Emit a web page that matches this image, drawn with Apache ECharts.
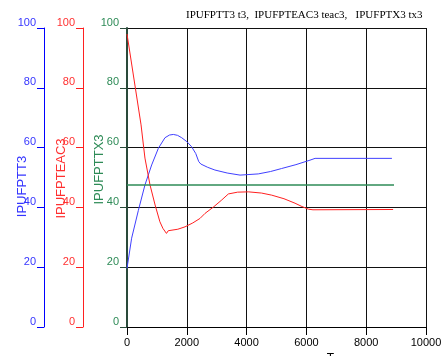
<!DOCTYPE html>
<html>
<head>
<meta charset="utf-8">
<script src="https://cdn.jsdelivr.net/npm/echarts@6/dist/echarts.min.js"></script>
<style>
  html, body { margin: 0; padding: 0; background: #fff; }
  #chart { width: 448px; height: 356px; }
</style>
</head>
<body>
<div id="chart"></div>
<script>
// 曲线数据 [T, 值]
var t3 = [
  [0, 19.6], [155, 29.7], [380, 39], [600, 47.5], [825, 54.2], [1050, 59.8],
  [1270, 63.3], [1420, 64.2], [1550, 64.4], [1690, 64.1], [1830, 63.3],
  [2000, 62], [2160, 60.3], [2300, 58], [2400, 55.3], [2470, 54.5],
  [2700, 53.4], [2940, 52.5], [3350, 51.5], [3780, 50.8], [4390, 51.2],
  [4800, 52], [5170, 53], [5650, 54.3], [6120, 55.8], [6290, 56.4], [8860, 56.4]
]
var teac3 = [
  [0, 98], [470, 67.6], [600, 56.5], [770, 47.5], [940, 40.8], [1100, 35.2],
  [1200, 33], [1320, 31.3], [1380, 32.2], [1440, 32], [1700, 32.7],
  [1940, 33.5], [2200, 34.8], [2440, 36.3], [2610, 38], [2900, 40.2],
  [3170, 42.5], [3390, 44.5], [3700, 45.1], [4060, 45.2], [4500, 44.8],
  [4840, 44.1], [5250, 42.9], [5620, 41.4], [5850, 40.3], [6070, 39.4],
  [6220, 39.2], [8900, 39.3]
]
var tx3 = [[0, 47.5], [8930, 47.5]]
var yTicks = { min: 0, max: 100, interval: 20 }
var titleText = 'IPUFPTT3 t3,  IPUFPTEAC3 teac3,   IPUFPTX3 tx3'

var chart = echarts.init(document.getElementById('chart'))

function leftAxis(name, color, lineColor, offset, gap, namePad) {
  return {
    type: 'value',
    position: 'left',
    offset: offset,
    min: yTicks.min,
    max: yTicks.max,
    interval: yTicks.interval,
    name: name,
    nameLocation: 'middle',
    nameGap: gap,
    nameMoveOverlap: false,
    nameTextStyle: { color: color, fontSize: 13, fontFamily: 'Liberation Sans', padding: namePad },
    axisLine: { show: true, onZero: false, lineStyle: { color: lineColor, width: 1 } },
    axisTick: { show: true, length: 7, lineStyle: { color: lineColor } },
    axisLabel: {
      color: color, fontSize: 11, fontFamily: 'Liberation Sans',
      margin: 8, verticalAlign: 'bottom'
    },
    splitLine: { show: false }
  }
}

var green = leftAxis('IPUFPTTX3', '#2e8b57', '#2a4a3a', 0, 21, [0, 0, 0, 16])
green.splitLine = { show: true, lineStyle: { color: '#111', width: 1 } }
green.axisLine.lineStyle.width = 2

var option = {
  animation: false,
  backgroundColor: '#fff',
  title: {
    text: titleText,
    left: 181,
    top: 5,
    textStyle: { color: '#000', fontSize: 11, fontWeight: 'normal', fontFamily: 'Liberation Serif' }
  },
  grid: { left: 127, top: 28, right: 22, bottom: 29, containLabel: false, outerBoundsMode: 'none' },
  xAxis: {
    type: 'value',
    min: 0,
    max: 10000,
    interval: 2000,
    name: 'T',
    nameLocation: 'middle',
    nameGap: 26,
    nameMoveOverlap: false,
    nameTextStyle: { color: '#000', fontSize: 12, padding: [0, 0, 0, 108] },
    axisLine: { show: true, onZero: false, lineStyle: { color: '#000' } },
    axisTick: { show: true, length: 8, lineStyle: { color: '#000' } },
    axisLabel: {
      color: '#000', fontSize: 11, fontFamily: 'Liberation Sans', margin: 10,
      formatter: function (v) { return String(v) }
    },
    splitLine: { show: true, lineStyle: { color: '#111', width: 1 } }
  },
  yAxis: [
    leftAxis('IPUFPTT3', '#3535ff', '#0000ff', 83, 15, [0, 18, 0, 0]),
    leftAxis('IPUFPTEAC3', '#ff3030', '#ff2020', 44, 15, [0, 2, 0, 0]),
    green
  ],
  series: [
    {
      name: 't3', type: 'line', yAxisIndex: 0, data: t3, showSymbol: false,
      lineStyle: { color: '#4040ff', width: 1 }
    },
    {
      name: 'teac3', type: 'line', yAxisIndex: 1, data: teac3, showSymbol: false,
      lineStyle: { color: '#ff2020', width: 1 }
    },
    {
      name: 'tx3', type: 'line', yAxisIndex: 2, data: tx3, showSymbol: false,
      lineStyle: { color: '#2e8b57', width: 1.5 }
    }
  ]
}

chart.setOption(option)
</script>
</body>
</html>
